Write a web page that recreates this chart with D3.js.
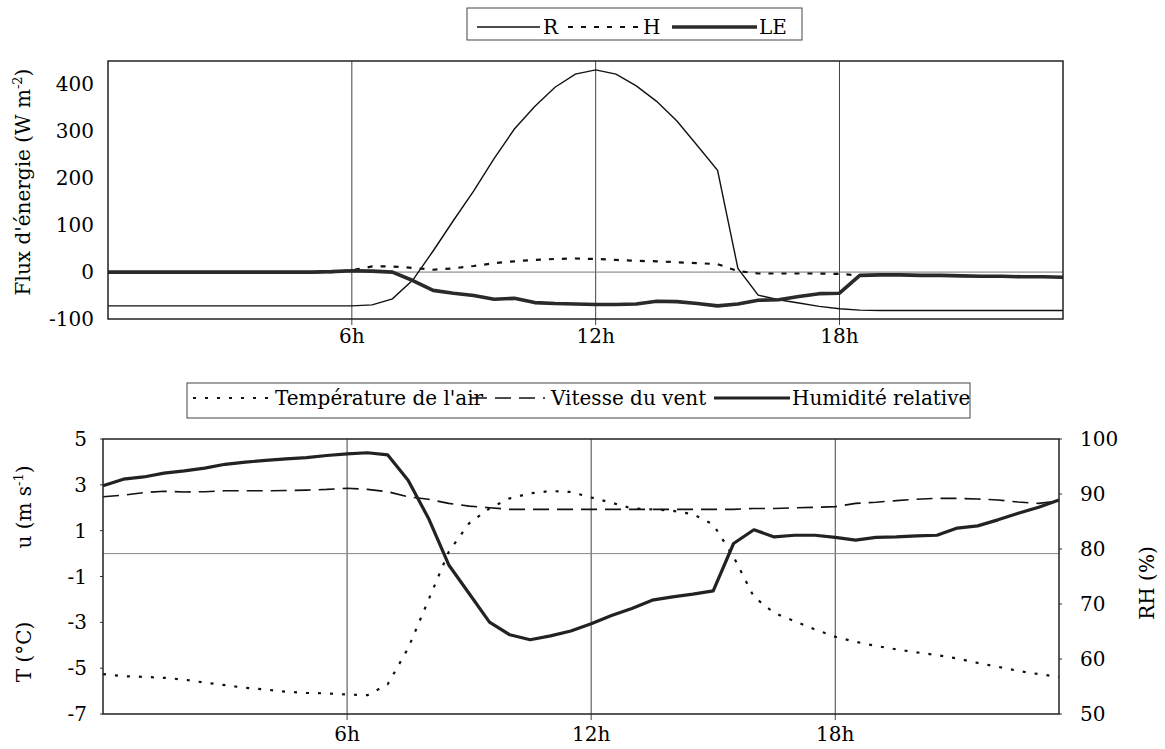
<!DOCTYPE html>
<html><head><meta charset="utf-8">
<script src="https://cdn.jsdelivr.net/npm/d3@7"></script>
</head><body style="margin:0">
<script>
// ---------- DATA (48 half-hour steps, 0h .. 23h30) ----------
const hourTicks = [12, 24, 36];
const hourLabels = ["6h", "12h", "18h"];

// Top chart : energy fluxes (W m-2)
const fluxR = [-72,-72,-72,-72,-72,-72,-72,-72,-72,-72,-72,-72,-72,-70,-57,-17,45,110,173,242,305,353,394,422,431,422,397,364,322,270,217,8,-49,-59,-66,-73,-78,-81,-82,-82,-82,-82,-82,-82,-82,-82,-82,-82];
const fluxH = [0,0,0,0,0,0,0,0,0,0,0,0,4,12,12,9,5,8,13,19,23,26,28,29,28,26,24,23,21,19,17,2,-3,-3,-3,-3,-4,-7,-6,-6,-7,-7,-8,-9,-9,-10,-10,-11];
const fluxLE = [0,0,0,0,0,0,0,0,0,0,0,1,3,2,0,-18,-39,-45,-50,-58,-56,-65,-67,-68,-69,-69,-68,-62,-63,-67,-72,-68,-60,-59,-52,-46,-45,-7,-6,-6,-7,-7,-8,-9,-9,-10,-10,-11];
const fluxTicks = [-100, 0, 100, 200, 300, 400];

// Bottom chart : air temperature (°C), wind speed (m s-1), relative humidity (%)
const airT = [-5.26,-5.35,-5.38,-5.42,-5.5,-5.63,-5.74,-5.86,-5.93,-6.03,-6.08,-6.1,-6.15,-6.18,-5.7,-4.13,-2.03,0.08,1.32,1.97,2.41,2.63,2.73,2.69,2.45,2.22,1.97,1.93,1.87,1.72,1.27,-0.14,-1.89,-2.59,-2.95,-3.31,-3.63,-3.85,-4.03,-4.18,-4.31,-4.43,-4.58,-4.77,-4.94,-5.12,-5.26,-5.38];
const windU = [2.48,2.55,2.66,2.72,2.69,2.7,2.74,2.74,2.74,2.75,2.77,2.8,2.85,2.8,2.7,2.48,2.37,2.19,2.07,2.0,1.93,1.93,1.93,1.93,1.93,1.93,1.93,1.93,1.93,1.93,1.93,1.93,1.97,1.97,2.0,2.02,2.05,2.19,2.24,2.31,2.37,2.41,2.41,2.38,2.34,2.25,2.19,2.3];
const relHum = [91.5,92.7,93.1,93.8,94.2,94.7,95.4,95.8,96.1,96.4,96.6,97.0,97.3,97.5,97.1,92.5,85.6,77.1,71.9,66.7,64.4,63.5,64.2,65.1,66.4,67.9,69.2,70.7,71.3,71.8,72.4,81.0,83.5,82.2,82.5,82.5,82.1,81.6,82.1,82.2,82.4,82.5,83.8,84.2,85.3,86.5,87.6,88.9];
const leftTicks = [-7, -5, -3, -1, 1, 3, 5];
const rightTicks = [50, 60, 70, 80, 90, 100];

// ---------- DRAWING ----------
const W = 1165, H = 749;
const FONT = "DejaVu Serif";
const svg = d3.select("body").append("svg").attr("width", W).attr("height", H);
const fmt = d => String(d);

function label(parent, x, y, str, size, anchor, rot) {
  const el = parent.append("text").attr("font-size", size).attr("font-family", FONT);
  if (rot) el.attr("transform", `translate(${x},${y}) rotate(${rot})`);
  else el.attr("x", x).attr("y", y);
  if (anchor) el.attr("text-anchor", anchor);
  if (str !== null) el.text(str);
  return el;
}

// ---- TOP CHART ----
const t = {l: 108, r: 1063, t: 61, b: 319};
const xT = d3.scaleLinear().domain([0, 47]).range([t.l, t.r]);
const yT = d3.scaleLinear().domain([-100, 450]).range([t.b, t.t]);

const gTop = svg.append("g");
gTop.selectAll("line.vg").data(hourTicks).join("line")
  .attr("x1", d => xT(d)).attr("x2", d => xT(d)).attr("y1", t.t).attr("y2", t.b + 6)
  .attr("stroke", "#444").attr("stroke-width", 1);
gTop.append("line").attr("x1", t.l).attr("x2", t.r).attr("y1", yT(0)).attr("y2", yT(0))
  .attr("stroke", "#777").attr("stroke-width", 1);
fluxTicks.forEach(v => label(svg, t.l - 14, yT(v) + 7, fmt(v), 20, "end"));
hourTicks.forEach((v, i) => label(svg, xT(v), t.b + 24, hourLabels[i], 20, "middle"));

const lineT = arr => d3.line().x((d, i) => xT(i)).y(d => yT(d))(arr);
gTop.append("path").attr("d", lineT(fluxR)).attr("fill", "none").attr("stroke", "#111").attr("stroke-width", 1.4);
gTop.append("path").attr("d", lineT(fluxH)).attr("fill", "none").attr("stroke", "#111").attr("stroke-width", 2.2).attr("stroke-dasharray", "5,8");
gTop.append("path").attr("d", lineT(fluxLE)).attr("fill", "none").attr("stroke", "#2a2a2a").attr("stroke-width", 3.6).attr("stroke-linejoin", "round");
gTop.append("rect").attr("x", t.l).attr("y", t.t).attr("width", t.r - t.l).attr("height", t.b - t.t)
  .attr("fill", "none").attr("stroke", "#222").attr("stroke-width", 1.5);

const ttl1 = label(svg, 30, (t.t + t.b) / 2 - 8, null, 20, "middle", -90);
ttl1.append("tspan").text("Flux d'énergie (W m");
ttl1.append("tspan").attr("dy", -8).attr("font-size", 13).text("-2");
ttl1.append("tspan").attr("dy", 8).text(")");

const lg1 = svg.append("g");
lg1.append("rect").attr("x", 467).attr("y", 8).attr("width", 335).attr("height", 32)
  .attr("fill", "#fff").attr("stroke", "#444").attr("stroke-width", 1);
const lgItems1 = [
  {x1: 477, x2: 540, tx: 543, label: "R", w: 1.4, dash: null, c: "#111"},
  {x1: 568, x2: 640, tx: 643, label: "H", w: 2.2, dash: "5,8", c: "#111"},
  {x1: 672, x2: 757, tx: 759, label: "LE", w: 3.6, dash: null, c: "#2a2a2a"}
];
lgItems1.forEach(d => {
  lg1.append("line").attr("x1", d.x1).attr("x2", d.x2).attr("y1", 27).attr("y2", 27)
    .attr("stroke", d.c).attr("stroke-width", d.w).attr("stroke-dasharray", d.dash);
  label(lg1, d.tx, 34, d.label, 20);
});

// ---- BOTTOM CHART ----
const b = {l: 103, r: 1059, t: 439, b: 714};
const xB = d3.scaleLinear().domain([0, 47]).range([b.l, b.r]);
const yL = d3.scaleLinear().domain([-7, 5]).range([b.b, b.t]);
const yR = d3.scaleLinear().domain([50, 100]).range([b.b, b.t]);

const gBot = svg.append("g");
gBot.selectAll("line.vg").data(hourTicks).join("line")
  .attr("x1", d => xB(d)).attr("x2", d => xB(d)).attr("y1", b.t).attr("y2", b.b + 6)
  .attr("stroke", "#444").attr("stroke-width", 1);
gBot.append("line").attr("x1", b.l).attr("x2", b.r).attr("y1", yL(0)).attr("y2", yL(0))
  .attr("stroke", "#888").attr("stroke-width", 1);
gBot.selectAll("line.lt").data(leftTicks).join("line")
  .attr("x1", b.l - 3).attr("x2", b.l).attr("y1", d => yL(d)).attr("y2", d => yL(d)).attr("stroke", "#333");
gBot.selectAll("line.rt").data(rightTicks).join("line")
  .attr("x1", b.r).attr("x2", b.r + 3).attr("y1", d => yR(d)).attr("y2", d => yR(d)).attr("stroke", "#333");
leftTicks.forEach(v => label(svg, b.l - 16, yL(v) + 7, fmt(v), 20, "end"));
rightTicks.forEach(v => label(svg, b.r + 21, yR(v) + 7, fmt(v), 20, "start"));
hourTicks.forEach((v, i) => label(svg, xB(v), b.b + 27, hourLabels[i], 20, "middle"));

const lineL = arr => d3.line().x((d, i) => xB(i)).y(d => yL(d))(arr);
const lineR = arr => d3.line().x((d, i) => xB(i)).y(d => yR(d))(arr);
gBot.append("path").attr("d", lineL(airT)).attr("fill", "none").attr("stroke", "#111").attr("stroke-width", 2.2).attr("stroke-dasharray", "3,9");
gBot.append("path").attr("d", lineL(windU)).attr("fill", "none").attr("stroke", "#111").attr("stroke-width", 1.6).attr("stroke-dasharray", "16,8");
gBot.append("path").attr("d", lineR(relHum)).attr("fill", "none").attr("stroke", "#222").attr("stroke-width", 3.2).attr("stroke-linejoin", "round");
gBot.append("rect").attr("x", b.l).attr("y", b.t).attr("width", b.r - b.l).attr("height", b.b - b.t)
  .attr("fill", "none").attr("stroke", "#222").attr("stroke-width", 1.5);

const tu = label(svg, 31, 507, null, 20, "middle", -90);
tu.append("tspan").text("u (m s");
tu.append("tspan").attr("dy", -8).attr("font-size", 13).text("-1");
tu.append("tspan").attr("dy", 8).text(")");
label(svg, 31, 652, "T (°C)", 20, "middle", -90);
label(svg, 1154, 583, "RH (%)", 20, "middle", -90);

const lg2 = svg.append("g");
lg2.append("rect").attr("x", 187).attr("y", 383).attr("width", 783).attr("height", 35)
  .attr("fill", "#fff").attr("stroke", "#444").attr("stroke-width", 1);
const lgItems2 = [
  {x1: 193, x2: 268, tx: 275, label: "Température de l'air", w: 2.2, dash: "3,9", c: "#111"},
  {x1: 471, x2: 545, tx: 551, label: "Vitesse du vent", w: 1.6, dash: "16,8", c: "#111"},
  {x1: 714, x2: 790, tx: 792, label: "Humidité relative", w: 3.2, dash: null, c: "#222"}
];
lgItems2.forEach(d => {
  lg2.append("line").attr("x1", d.x1).attr("x2", d.x2).attr("y1", 398).attr("y2", 398)
    .attr("stroke", d.c).attr("stroke-width", d.w).attr("stroke-dasharray", d.dash);
  label(lg2, d.tx, 405, d.label, 20);
});
</script>
</body></html>
